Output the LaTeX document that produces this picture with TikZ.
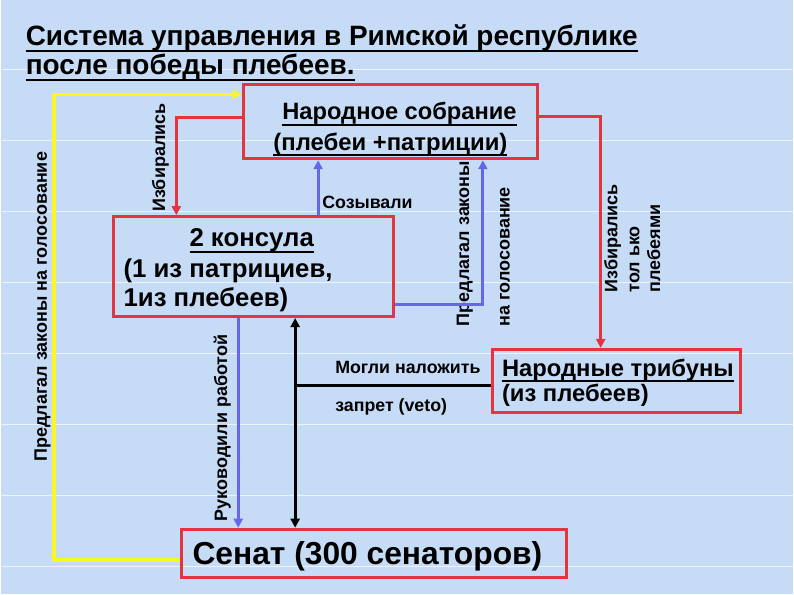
\documentclass[tikz,border=0pt]{standalone}
\usepackage{fontspec}
\setmainfont{Liberation Sans}
\usetikzlibrary{arrows.meta,calc}
\definecolor{bgc}{RGB}{198,220,246}
\definecolor{redc}{RGB}{230,52,62}
\definecolor{bluec}{RGB}{102,102,232}
\definecolor{yelc}{RGB}{250,246,40}
\newlength\ulw
\newcommand{\myul}[3]{\setbox0=\hbox{#3}\ulw=\wd0\relax
  \hbox{\copy0\hskip-\ulw\vrule width\ulw height -#1 depth \dimexpr#1+#2\relax}}
\begin{document}
\begin{tikzpicture}[x=1bp,y=-1bp,
  box/.style={draw=redc,line width=3bp,inner sep=0pt},
  txt/.style={inner sep=0pt,anchor=base west,text=black},
  lbl/.style={inner sep=0pt,anchor=west,rotate=90,font=\bfseries\fontsize{18bp}{20bp}\selectfont},
  hl/.style={inner sep=0pt,anchor=base west,font=\bfseries\fontsize{17.8bp}{20bp}\selectfont},
  conn/.style={line width=3bp},
  tip/.style={-{Triangle[length=9bp,width=9bp]}}
]
\fill[bgc] (0,0) rectangle (794,595);
\foreach \yy in {70,141,212,283,354,425,496,567}
  \draw[white,opacity=0.7,line width=1.2bp] (0,\yy) -- (794,\yy);
\useasboundingbox (0,0) rectangle (794,595);

% boxes
\node[box,minimum width=295bp,minimum height=74bp] (ns) at (390.5,122) {};
\node[box,minimum width=280bp,minimum height=100bp] (cons) at (253,267) {};
\node[box,minimum width=248bp,minimum height=63bp] (trib) at (617,381.5) {};
\node[box,minimum width=386bp,minimum height=48bp] (sen) at (374,554) {};

% title
\node[txt,font=\bfseries\fontsize{28bp}{30bp}\selectfont] (t1) at (25,46) {\myul{4bp}{2bp}{Система управления в Римской республике}};
\node[txt,font=\bfseries\fontsize{28bp}{30bp}\selectfont] (t2) at (25,75) {\myul{4bp}{2bp}{после победы плебеев.}};

% box texts
\node[txt,font=\bfseries\fontsize{23.7bp}{26bp}\selectfont] (ns1) at (282,120) {\myul{4bp}{2bp}{Народное собрание}};
\node[txt,font=\bfseries\fontsize{23.9bp}{26bp}\selectfont] (ns2) at (273,151) {\myul{3bp}{2bp}{(плебеи +патриции)}};
\node[txt,font=\bfseries\fontsize{25.8bp}{28bp}\selectfont] (c1) at (189,247) {\myul{4bp}{2bp}{2 консула}};
\node[txt,font=\bfseries\fontsize{25.8bp}{28bp}\selectfont] (c2) at (123,278) {(1 из патрициев,};
\node[txt,font=\bfseries\fontsize{25.8bp}{28bp}\selectfont] (c3) at (123,307) {1из плебеев)};
\node[txt,font=\bfseries\fontsize{23.8bp}{26bp}\selectfont] (tr1) at (502,377) {\myul{4bp}{2bp}{Народные трибуны}};
\node[txt,font=\bfseries\fontsize{23.8bp}{26bp}\selectfont] (tr2) at (502,402) {(из плебеев)};
\node[txt,font=\bfseries\fontsize{31.8bp}{34bp}\selectfont] (s1) at (192,565) {Сенат (300 сенаторов)};

% labels
\node[hl] (l1) at (322,209) {Созывали};
\node[hl] (l2) at (335,374) {Могли наложить};
\node[hl] (l3) at (335,412) {запрет (veto)};
\node[lbl] (r1) at (160,212) {Избирались};
\node[lbl,anchor=east] (r2) at (42,152) {Предлагал законы на голосование};
\node[lbl] (r3) at (222,522) {Руководили работой};
\node[lbl] (r4) at (465,327) {Предлагал законы};
\node[lbl] (r5) at (505,327) {на голосование};
\node[lbl] (r6) at (613,293) {Избирались};
\node[lbl] (r7) at (635,293) {тол ько};
\node[lbl] (r8) at (654,293) {плебеями};

% connectors
\draw[conn,line width=3.5bp,yelc,tip] ([yshift=-7bp]sen.west) -- ++(-126,0) |- ([yshift=-11bp]ns.north west);
\draw[conn,redc,tip] ([yshift=-34bp]ns.north west) -| ([xshift=-77bp]cons.north);
\draw[conn,redc,tip] ([yshift=-33bp]ns.north east) -| ([xshift=-16bp]trib.north);
\coordinate (cz) at ([xshift=65bp]cons.north);
\draw[conn,bluec,tip] (cz) -- (cz |- ns.south);
\coordinate (cp) at ([yshift=-38bp]cons.east);
\coordinate (np) at ([xshift=92.5bp]ns.south);
\draw[conn,bluec,tip] (cp) -| (np);
\coordinate (cr) at ([xshift=-15bp]cons.south);
\draw[conn,bluec,tip] (cr) -- (cr |- sen.north);
\coordinate (cv) at ([xshift=42bp]cons.south);
\draw[conn,black,{Triangle[length=9bp,width=9bp]}-{Triangle[length=9bp,width=9bp]}] (cv) -- (cv |- sen.north);
\coordinate (tv) at ([yshift=-4.5bp]trib.west);
\draw[conn,black] (tv) -- (cv |- tv);
\end{tikzpicture}
\end{document}
